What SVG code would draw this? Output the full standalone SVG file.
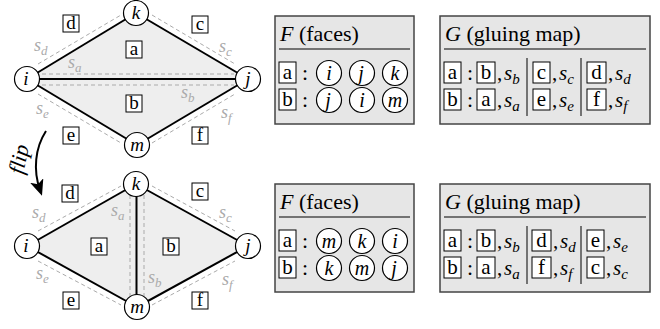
<svg xmlns="http://www.w3.org/2000/svg" width="660" height="329" viewBox="0 0 660 329">
<style>
.edge{stroke:#000;stroke-width:2;fill:none}
.face{fill:#eeeeee;stroke:none}
.dash{stroke:#aaa;stroke-width:1;stroke-dasharray:4 3;fill:none}
.nc{fill:#fff;stroke:#000;stroke-width:1.2}
.nt{font-family:"Liberation Serif",serif;font-style:italic;font-size:19px;text-anchor:middle;fill:#000}
.tn{font-family:"Liberation Serif",serif;font-style:italic;font-size:20px;text-anchor:middle;fill:#000}
.br{fill:#fff;stroke:#000;stroke-width:1}
.bt{font-family:"Liberation Serif",serif;font-size:19px;text-anchor:middle;fill:#000}
.tbt{font-family:"Liberation Serif",serif;font-size:21px;text-anchor:middle;fill:#000}
.s{font-family:"Liberation Serif",serif;font-style:italic;font-size:18px;fill:#aaa}
.sub{font-size:13px}
.tb{fill:#e6e6e6;stroke:#444;stroke-width:1.5}
.tt{font-family:"Liberation Serif",serif;font-size:22px;fill:#000}
.ts{font-family:"Liberation Serif",serif;font-style:italic;font-size:21px;fill:#000}
.tsub{font-size:15px}
.rule{stroke:#000;stroke-width:1.2}
.bar{stroke:#000;stroke-width:1}
</style>
<defs>
<marker id="ah" markerWidth="16" markerHeight="14" refX="10" refY="7" orient="auto" markerUnits="userSpaceOnUse">
<path d="M0,0 L16,7 L0,14 L4,7 z" fill="#000"/>
</marker>
</defs>

<!-- TOP DIAGRAM -->
<g id="top-faces">
<polygon class="face" points="27,79 136,13 248,79 137,145"/>
</g>
<g id="top-connectors">
<line class="edge" x1="27" y1="79" x2="136" y2="13"/>
<line class="edge" x1="136" y1="13" x2="248" y2="79"/>
<line class="edge" x1="248" y1="79" x2="137" y2="145"/>
<line class="edge" x1="137" y1="145" x2="27" y2="79"/>
<line class="edge" x1="27" y1="79" x2="248" y2="79"/>
<line class="dash" x1="38" y1="64" x2="121" y2="15"/>
<line class="dash" x1="152" y1="15" x2="235" y2="64"/>
<line class="dash" x1="38" y1="94" x2="121" y2="143"/>
<line class="dash" x1="152" y1="143" x2="235" y2="94"/>
<line class="dash" x1="42" y1="74" x2="234" y2="74"/>
<line class="dash" x1="42" y1="85" x2="234" y2="85"/>
</g>
<g id="top-node-i"><circle class="nc" cx="27" cy="79" r="12.5"/><text class="nt" x="26" y="85">i</text></g>
<g id="top-node-k"><circle class="nc" cx="136" cy="13" r="12.5"/><text class="nt" x="136" y="19">k</text></g>
<g id="top-node-j"><circle class="nc" cx="248" cy="79" r="12.5"/><text class="nt" x="248" y="85">j</text></g>
<g id="top-node-m"><circle class="nc" cx="137" cy="145" r="12.5"/><text class="nt" x="137" y="151">m</text></g>
<g id="top-labels">
<rect class="br" x="63" y="15" width="16" height="17"/><text class="bt" x="71" y="29">d</text>
<rect class="br" x="192" y="16" width="16" height="17"/><text class="bt" x="200" y="30">c</text>
<rect class="br" x="126" y="41" width="16" height="17"/><text class="bt" x="134" y="55">a</text>
<rect class="br" x="126" y="95" width="16" height="17"/><text class="bt" x="134" y="109">b</text>
<rect class="br" x="63" y="127" width="16" height="17"/><text class="bt" x="71" y="141">e</text>
<rect class="br" x="192" y="127" width="16" height="17"/><text class="bt" x="200" y="141">f</text>
<text class="s" x="34" y="51">s<tspan class="sub" dy="4">d</tspan></text>
<text class="s" x="68" y="68">s<tspan class="sub" dy="4">a</tspan></text>
<text class="s" x="219" y="52">s<tspan class="sub" dy="4">c</tspan></text>
<text class="s" x="181" y="98">s<tspan class="sub" dy="4">b</tspan></text>
<text class="s" x="36" y="114">s<tspan class="sub" dy="4">e</tspan></text>
<text class="s" x="221" y="118">s<tspan class="sub" dy="4">f</tspan></text>
</g>

<!-- FLIP ARROW -->
<g id="flip">
<path class="edge" d="M46,131 C35,148 33,170 40,190" stroke-width="1.5" marker-end="url(#ah)"/>
<text font-family="Liberation Serif,serif" font-style="italic" font-size="22" transform="translate(23,175) rotate(-78)">flip</text>
</g>

<!-- BOTTOM DIAGRAM -->
<g id="bot-faces">
<polygon class="face" points="27,246 136,184 248,246 137,307"/>
</g>
<g id="bot-connectors">
<line class="edge" x1="27" y1="246" x2="136" y2="184"/>
<line class="edge" x1="136" y1="184" x2="248" y2="246"/>
<line class="edge" x1="248" y1="246" x2="137" y2="307"/>
<line class="edge" x1="137" y1="307" x2="27" y2="246"/>
<line class="edge" x1="136.5" y1="184" x2="136.5" y2="307"/>
<line class="dash" x1="38" y1="231" x2="121" y2="186"/>
<line class="dash" x1="152" y1="186" x2="235" y2="231"/>
<line class="dash" x1="38" y1="261" x2="121" y2="305"/>
<line class="dash" x1="152" y1="305" x2="235" y2="261"/>
<line class="dash" x1="130" y1="195" x2="130" y2="298"/>
<line class="dash" x1="144" y1="195" x2="144" y2="298"/>
</g>
<g id="bot-node-i"><circle class="nc" cx="27" cy="246" r="12.5"/><text class="nt" x="26" y="252">i</text></g>
<g id="bot-node-k"><circle class="nc" cx="136" cy="184" r="12.5"/><text class="nt" x="136" y="190">k</text></g>
<g id="bot-node-j"><circle class="nc" cx="248" cy="246" r="12.5"/><text class="nt" x="248" y="252">j</text></g>
<g id="bot-node-m"><circle class="nc" cx="137" cy="307" r="12.5"/><text class="nt" x="137" y="313">m</text></g>
<g id="bot-labels">
<rect class="br" x="62" y="185" width="16" height="17"/><text class="bt" x="70" y="199">d</text>
<rect class="br" x="192" y="183" width="16" height="17"/><text class="bt" x="200" y="197">c</text>
<rect class="br" x="91" y="238" width="16" height="17"/><text class="bt" x="99" y="252">a</text>
<rect class="br" x="163" y="238" width="16" height="17"/><text class="bt" x="171" y="252">b</text>
<rect class="br" x="63" y="292" width="16" height="17"/><text class="bt" x="71" y="306">e</text>
<rect class="br" x="192" y="292" width="16" height="17"/><text class="bt" x="200" y="306">f</text>
<text class="s" x="32" y="218">s<tspan class="sub" dy="4">d</tspan></text>
<text class="s" x="111" y="216">s<tspan class="sub" dy="4">a</tspan></text>
<text class="s" x="219" y="218">s<tspan class="sub" dy="4">c</tspan></text>
<text class="s" x="148" y="283">s<tspan class="sub" dy="4">b</tspan></text>
<text class="s" x="36" y="279">s<tspan class="sub" dy="4">e</tspan></text>
<text class="s" x="222" y="285">s<tspan class="sub" dy="4">f</tspan></text>
</g>

<!-- TOP F TABLE -->
<g id="top-F">
<rect class="tb" x="275" y="16" width="139" height="108"/>
<text class="tt" x="280" y="41"><tspan font-style="italic">F</tspan> (faces)</text>
<line class="rule" x1="279" y1="49" x2="410" y2="49"/>
<rect class="br" x="279" y="62" width="17" height="21"/><text class="tbt" x="287.5" y="79">a</text>
<text class="tt" x="302" y="80">:</text>
<circle class="nc" cx="329" cy="73" r="12.5"/><text class="tn" x="329" y="80">i</text>
<circle class="nc" cx="362" cy="73" r="12.5"/><text class="tn" x="361" y="80">j</text>
<circle class="nc" cx="395" cy="73" r="12.5"/><text class="tn" x="395" y="80">k</text>
<rect class="br" x="279" y="89" width="17" height="21"/><text class="tbt" x="287.5" y="106">b</text>
<text class="tt" x="302" y="107">:</text>
<circle class="nc" cx="329" cy="100" r="12.5"/><text class="tn" x="328" y="107">j</text>
<circle class="nc" cx="362" cy="100" r="12.5"/><text class="tn" x="362" y="107">i</text>
<circle class="nc" cx="395" cy="100" r="12.5"/><text class="tn" x="395" y="107">m</text>
</g>

<!-- TOP G TABLE -->
<g id="top-G">
<rect class="tb" x="440" y="16" width="210" height="108"/>
<text class="tt" x="445" y="41"><tspan font-style="italic">G</tspan> (gluing map)</text>
<line class="rule" x1="444" y1="49" x2="646" y2="49"/>
<line class="bar" x1="527" y1="58" x2="527" y2="116"/>
<line class="bar" x1="581" y1="58" x2="581" y2="116"/>
<rect class="br" x="444" y="62" width="17" height="21"/><text class="tbt" x="452.5" y="79">a</text>
<text class="tt" x="467" y="80">:</text>
<rect class="br" x="477" y="62" width="18" height="21"/><text class="tbt" x="486" y="79">b</text>
<text class="ts" x="497" y="80"><tspan font-style="normal">,</tspan><tspan x="504">s</tspan><tspan class="tsub" dy="4">b</tspan></text>
<rect class="br" x="533" y="62" width="17" height="21"/><text class="tbt" x="541.5" y="79">c</text>
<text class="ts" x="552" y="80"><tspan font-style="normal">,</tspan><tspan x="559">s</tspan><tspan class="tsub" dy="4">c</tspan></text>
<rect class="br" x="587" y="62" width="19" height="21"/><text class="tbt" x="596.5" y="79">d</text>
<text class="ts" x="608" y="80"><tspan font-style="normal">,</tspan><tspan x="615">s</tspan><tspan class="tsub" dy="4">d</tspan></text>
<rect class="br" x="444" y="89" width="17" height="21"/><text class="tbt" x="452.5" y="106">b</text>
<text class="tt" x="467" y="107">:</text>
<rect class="br" x="477" y="89" width="18" height="21"/><text class="tbt" x="486" y="106">a</text>
<text class="ts" x="497" y="107"><tspan font-style="normal">,</tspan><tspan x="504">s</tspan><tspan class="tsub" dy="4">a</tspan></text>
<rect class="br" x="533" y="89" width="17" height="21"/><text class="tbt" x="541.5" y="106">e</text>
<text class="ts" x="552" y="107"><tspan font-style="normal">,</tspan><tspan x="559">s</tspan><tspan class="tsub" dy="4">e</tspan></text>
<rect class="br" x="587" y="89" width="19" height="21"/><text class="tbt" x="596.5" y="106">f</text>
<text class="ts" x="608" y="107"><tspan font-style="normal">,</tspan><tspan x="615">s</tspan><tspan class="tsub" dy="4">f</tspan></text>
</g>

<!-- BOTTOM F TABLE -->
<g id="bot-F">
<rect class="tb" x="275" y="184" width="139" height="108"/>
<text class="tt" x="280" y="209"><tspan font-style="italic">F</tspan> (faces)</text>
<line class="rule" x1="279" y1="217" x2="410" y2="217"/>
<rect class="br" x="279" y="230" width="17" height="21"/><text class="tbt" x="287.5" y="247">a</text>
<text class="tt" x="302" y="248">:</text>
<circle class="nc" cx="329" cy="241" r="12.5"/><text class="tn" x="329" y="248">m</text>
<circle class="nc" cx="362" cy="241" r="12.5"/><text class="tn" x="362" y="248">k</text>
<circle class="nc" cx="395" cy="241" r="12.5"/><text class="tn" x="395" y="248">i</text>
<rect class="br" x="279" y="257" width="17" height="21"/><text class="tbt" x="287.5" y="274">b</text>
<text class="tt" x="302" y="275">:</text>
<circle class="nc" cx="329" cy="268" r="12.5"/><text class="tn" x="329" y="275">k</text>
<circle class="nc" cx="362" cy="268" r="12.5"/><text class="tn" x="362" y="275">m</text>
<circle class="nc" cx="395" cy="268" r="12.5"/><text class="tn" x="394" y="275">j</text>
</g>

<!-- BOTTOM G TABLE -->
<g id="bot-G">
<rect class="tb" x="440" y="184" width="210" height="108"/>
<text class="tt" x="445" y="209"><tspan font-style="italic">G</tspan> (gluing map)</text>
<line class="rule" x1="444" y1="217" x2="646" y2="217"/>
<line class="bar" x1="527" y1="226" x2="527" y2="284"/>
<line class="bar" x1="581" y1="226" x2="581" y2="284"/>
<rect class="br" x="444" y="230" width="17" height="21"/><text class="tbt" x="452.5" y="247">a</text>
<text class="tt" x="467" y="248">:</text>
<rect class="br" x="477" y="230" width="18" height="21"/><text class="tbt" x="486" y="247">b</text>
<text class="ts" x="497" y="248"><tspan font-style="normal">,</tspan><tspan x="504">s</tspan><tspan class="tsub" dy="4">b</tspan></text>
<rect class="br" x="532" y="230" width="19" height="21"/><text class="tbt" x="541.5" y="247">d</text>
<text class="ts" x="553" y="248"><tspan font-style="normal">,</tspan><tspan x="560">s</tspan><tspan class="tsub" dy="4">d</tspan></text>
<rect class="br" x="587" y="230" width="17" height="21"/><text class="tbt" x="595.5" y="247">e</text>
<text class="ts" x="606" y="248"><tspan font-style="normal">,</tspan><tspan x="613">s</tspan><tspan class="tsub" dy="4">e</tspan></text>
<rect class="br" x="444" y="257" width="17" height="21"/><text class="tbt" x="452.5" y="274">b</text>
<text class="tt" x="467" y="275">:</text>
<rect class="br" x="477" y="257" width="18" height="21"/><text class="tbt" x="486" y="274">a</text>
<text class="ts" x="497" y="275"><tspan font-style="normal">,</tspan><tspan x="504">s</tspan><tspan class="tsub" dy="4">a</tspan></text>
<rect class="br" x="532" y="257" width="19" height="21"/><text class="tbt" x="541.5" y="274">f</text>
<text class="ts" x="553" y="275"><tspan font-style="normal">,</tspan><tspan x="560">s</tspan><tspan class="tsub" dy="4">f</tspan></text>
<rect class="br" x="587" y="257" width="17" height="21"/><text class="tbt" x="595.5" y="274">c</text>
<text class="ts" x="606" y="275"><tspan font-style="normal">,</tspan><tspan x="613">s</tspan><tspan class="tsub" dy="4">c</tspan></text>
</g>
</svg>
